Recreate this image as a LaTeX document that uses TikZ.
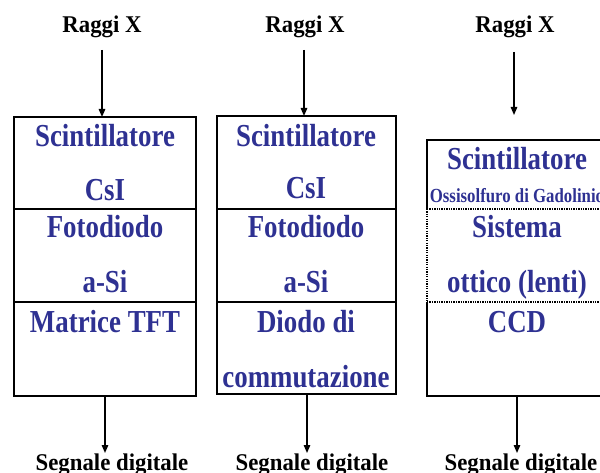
\documentclass[tikz,border=0pt]{standalone}
\usepackage{fontspec}
\usetikzlibrary{arrows.meta}
\newfontfamily\layerfont[FakeStretch=0.84]{Liberation Serif}
\newfontfamily\labelfont[FakeStretch=0.95]{Liberation Serif}
\definecolor{layerblue}{RGB}{46,49,146}
\tikzset{
  sect/.style={draw=black, line width=2pt, rectangle, inner sep=0pt, outer sep=0pt, anchor=north west},
  opensect/.style={draw=none, rectangle, inner sep=0pt, outer sep=0pt, anchor=north west},
  layertext/.style={anchor=base, inner sep=0pt, text=layerblue, font=\layerfont\bfseries\fontsize{32}{36}\selectfont},
  smalltext/.style={anchor=base, inner sep=0pt, text=layerblue, font=\layerfont\bfseries\fontsize{20}{24}\selectfont},
  sidelabel/.style={anchor=base, inner sep=0pt, text=black, font=\labelfont\bfseries\fontsize{24}{28}\selectfont},
  flow/.style={line width=1.4pt, -{Triangle[length=8pt,width=6.5pt]}},
  dottedrule/.style={line width=1.8pt, dash pattern=on 1.3pt off 1.1pt},
  solidrule/.style={line width=2pt},
}
\begin{document}
\begin{tikzpicture}[x=1pt, y=-1pt]
\useasboundingbox (0,0) rectangle (600,473);
\clip (0,0) rectangle (600,473);

% ---- first column: CsI + a-Si + TFT ----
\node[sect, minimum width=182pt, minimum height=92pt] (a1) at (14,117) {};
\node[sect, minimum width=182pt, minimum height=93pt] (a2) at (14,209) {};
\node[sect, minimum width=182pt, minimum height=94pt] (a3) at (14,302) {};
\node[layertext] (ta1) at (105,147) {Scintillatore};
\node[layertext] (tb1) at (105,201) {CsI};
\node[layertext] (tc1) at (105,238) {Fotodiodo};
\node[layertext] (td1) at (105,292) {a-Si};
\node[layertext] (te1) at (105,332) {Matrice TFT};

% ---- second column: CsI + a-Si + switching diode ----
\node[sect, minimum width=179pt, minimum height=93pt] (b1) at (217,116) {};
\node[sect, minimum width=179pt, minimum height=93pt] (b2) at (217,209) {};
\node[sect, minimum width=179pt, minimum height=92pt] (b3) at (217,302) {};
\node[layertext] (ta2) at (306,147) {Scintillatore};
\node[layertext] (tb2) at (306,199) {CsI};
\node[layertext] (tc2) at (306,238) {Fotodiodo};
\node[layertext] (td2) at (306,292) {a-Si};
\node[layertext] (te2) at (306,332) {Diodo di};
\node[layertext] (tf2) at (306,387) {commutazione};

% ---- third column: scintillator + optics + CCD ----
\node[opensect, minimum width=180pt, minimum height=69pt] (c1) at (427,140) {};
\node[opensect, minimum width=180pt, minimum height=93pt] (c2) at (427,209) {};
\node[opensect, minimum width=180pt, minimum height=94pt] (c3) at (427,302) {};
\draw[solidrule] (c1.south west) -- (c1.north west) -- (c1.north east) -- (c3.south east) -- (c3.south west) -- (c3.north west);
\draw[dottedrule] (c2.north west) -- (c2.north east);
\draw[dottedrule] (c2.north west) -- (c2.south west);
\draw[dottedrule] (c3.north west) -- (c3.north east);
\node[layertext] (ta3) at (517,170) {Scintillatore};
\node[smalltext] (tb3) at (517,203) {Ossisolfuro di Gadolinio};
\node[layertext] (tc3) at (517,238) {Sistema};
\node[layertext] (td3) at (517,292) {ottico (lenti)};
\node[layertext] (te3) at (517,332) {CCD};

% ---- inputs ----
\node[sidelabel] (in1) at (102,33) {Raggi X};
\node[sidelabel] (in2) at (305,33) {Raggi X};
\node[sidelabel] (in3) at (515,33) {Raggi X};
\coordinate (s1) at (102,50);
\coordinate (s2) at (304,50);
\coordinate (s3) at (514,52);
\coordinate (e3) at (514,115);
\draw[flow] (s1) -- (s1 |- a1.north);
\draw[flow] (s2) -- (s2 |- b1.north);
\draw[flow] (s3) -- (e3);

% ---- outputs ----
\node[sidelabel] (out1) at (112,470) {Segnale digitale};
\node[sidelabel] (out2) at (312,470) {Segnale digitale};
\node[sidelabel] (out3) at (521,470) {Segnale digitale};
\coordinate (o1) at (105,453);
\coordinate (o2) at (307,453);
\coordinate (o3) at (517,453);
\draw[flow] (o1 |- a3.south) -- (o1);
\draw[flow] (o2 |- b3.south) -- (o2);
\draw[flow] (o3 |- c3.south) -- (o3);
\end{tikzpicture}
\end{document}
